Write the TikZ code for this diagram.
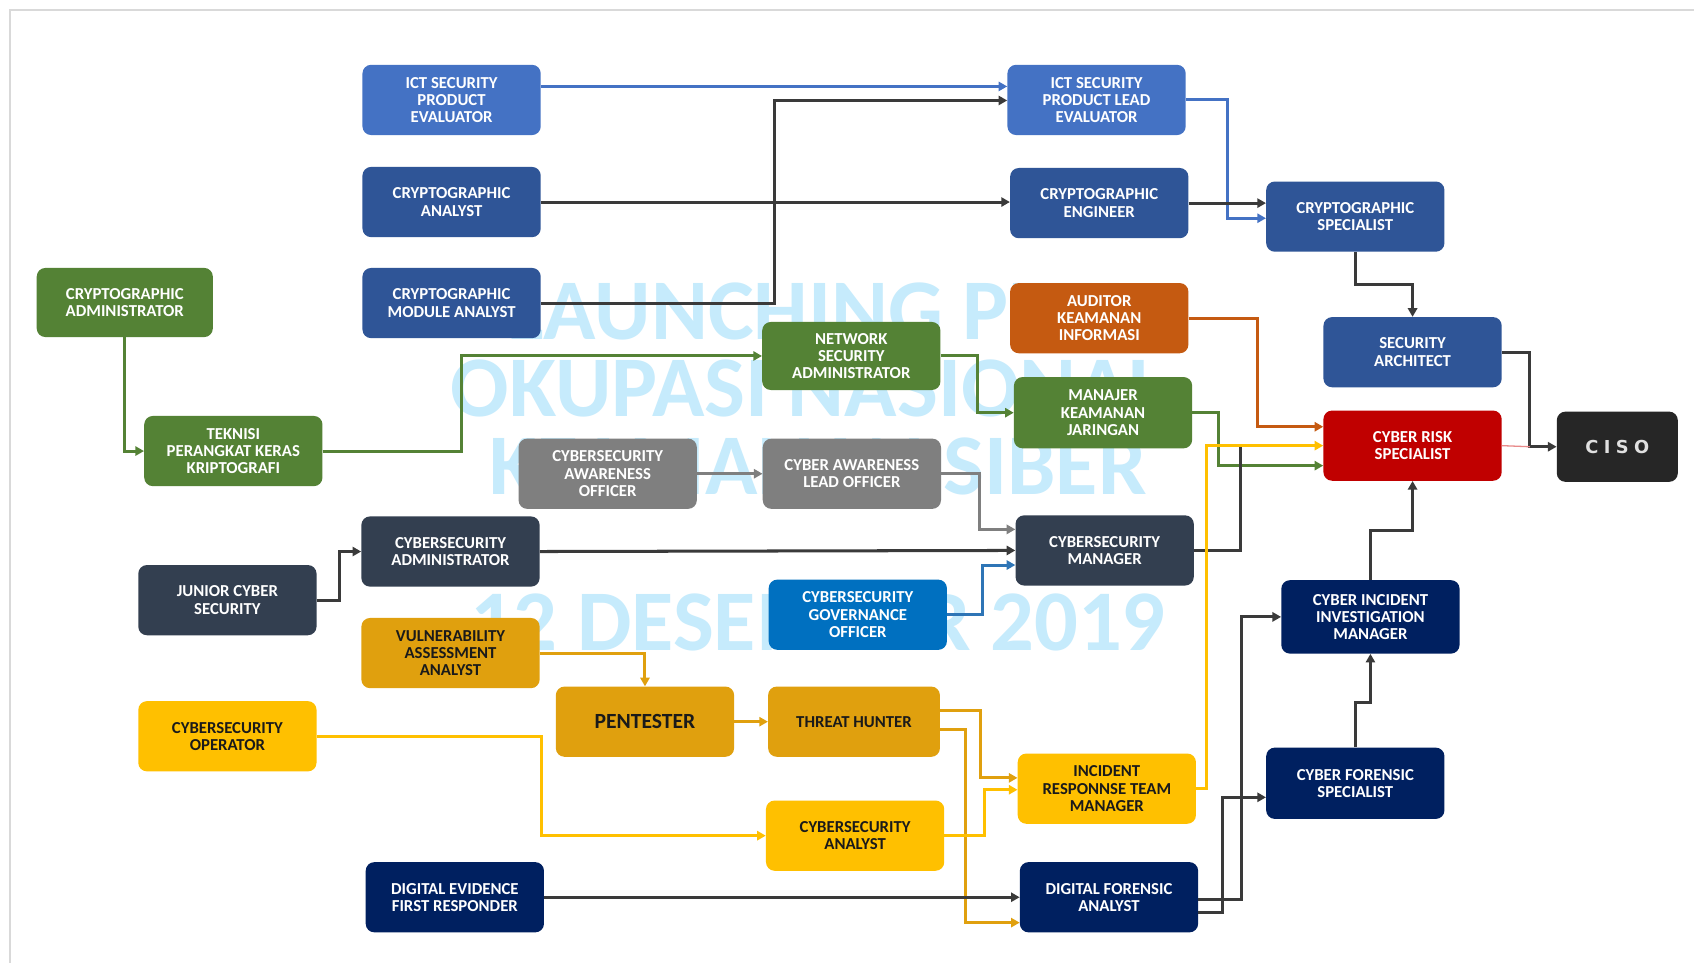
\documentclass[tikz,border=0pt]{standalone}
\usepackage{fontspec}
\setmainfont{Carlito}
\newfontfamily\cisofont{DejaVu Sans}[LetterSpace=30]
\usetikzlibrary{arrows.meta}
\definecolor{cMed}{HTML}{4472C4}
\definecolor{cDk}{HTML}{2F5597}
\definecolor{cGr}{HTML}{548235}
\definecolor{cGy}{HTML}{7F7F7F}
\definecolor{cOr}{HTML}{C55A11}
\definecolor{cRd}{HTML}{C00000}
\definecolor{cBk}{HTML}{262626}
\definecolor{cSl}{HTML}{333F50}
\definecolor{cBl}{HTML}{0070C0}
\definecolor{cGo}{HTML}{E0A00E}
\definecolor{cYe}{HTML}{FFC000}
\definecolor{cNv}{HTML}{002060}
\definecolor{cLn}{HTML}{3A3A3A}
\definecolor{cBlLn}{HTML}{2E75B6}
\definecolor{cWm}{RGB}{198,235,252}
\definecolor{cFr}{HTML}{D9D9D9}
\definecolor{cTx}{HTML}{1A1A1A}
\definecolor{cPink}{HTML}{E88A8A}
\newcommand\bxfont{\bfseries\fontsize{15.5}{16}\selectfont}
\tikzset{
  box/.style={rectangle, rounded corners=8pt, minimum width=165pt, minimum height=65pt,
    inner sep=0pt, align=center, font=\bxfont, text=white},
  bMed/.style={box, fill=cMed},
  bDk/.style={box, fill=cDk},
  bGr/.style={box, fill=cGr},
  bGy/.style={box, fill=cGy},
  bOr/.style={box, fill=cOr},
  bRd/.style={box, fill=cRd},
  bSl/.style={box, fill=cSl},
  bBl/.style={box, fill=cBl},
  bGo/.style={box, fill=cGo, text=cTx},
  bYe/.style={box, fill=cYe, text=cTx},
  bNv/.style={box, fill=cNv},
  conn/.style={line width=2.8pt, line join=miter, -{Triangle[length=8pt,width=8.5pt]}},
  plain/.style={line width=2.8pt, line join=miter},
  wm/.style={inner sep=0pt, text=cWm, font=\bfseries\fontsize{80}{80}\selectfont},
}
\begin{document}
\begin{tikzpicture}[x=1pt,y=-1pt]
\useasboundingbox (0,0) rectangle (1568,891);
\fill[white] (0,0) rectangle (1568,891);
% frame
\draw[cFr, line width=2pt] (9,891) -- (9,9) -- (1568,9);
% watermark
\node[wm] (w1) at (762,288) {LAUNCHING PETA};
\node[wm] (w2) at (748,360) {OKUPASI NASIONAL};
\node[wm] (w3) at (757,432) {KEAMANAN SIBER};
\node[wm] (w4) at (757,576) {12 DESEMBER 2019};

% nodes
\node[bMed] (ictpe) at (418,92.5) {ICT SECURITY\\PRODUCT\\EVALUATOR};
\node[bDk] (ca) at (418,187) {CRYPTOGRAPHIC\\ANALYST};
\node[bDk] (cma) at (418,280.5) {CRYPTOGRAPHIC\\MODULE ANALYST};
\node[bGr, minimum width=163pt, minimum height=64pt] (cadm) at (115.5,280) {CRYPTOGRAPHIC\\ADMINISTRATOR};
\node[bGr] (tpk) at (216,417.5) {TEKNISI\\PERANGKAT KERAS\\KRIPTOGRAFI};
\node[bGr, minimum height=63pt] (nsa) at (788,329.5) {NETWORK\\SECURITY\\ADMINISTRATOR};
\node[bGy] (cao) at (562.5,438.5) {CYBERSECURITY\\AWARENESS\\OFFICER};
\node[bGy] (calo) at (788.5,438.5) {CYBER AWARENESS\\LEAD OFFICER};
\node[bMed] (ictple) at (1015,92.5) {ICT SECURITY\\PRODUCT LEAD\\EVALUATOR};
\node[bDk] (ce) at (1017.5,188) {CRYPTOGRAPHIC\\ENGINEER};
\node[bOr] (aki) at (1017.5,294.5) {AUDITOR\\KEAMANAN\\INFORMASI};
\node[bGr, minimum height=66pt] (mkj) at (1021,382) {MANAJER\\KEAMANAN\\JARINGAN};
\node[bDk] (cs) at (1254.5,200.5) {CRYPTOGRAPHIC\\SPECIALIST};
\node[bDk] (sa) at (1307.5,326) {SECURITY\\ARCHITECT};
\node[bRd] (crs) at (1307.5,412.5) {CYBER RISK\\SPECIALIST};
\node[box, fill=cBk, minimum width=112pt, text=white!88!black, font=\cisofont\bfseries\fontsize{16.5}{18}\selectfont] (ciso) at (1497,413.5) {CISO};
\node[bSl] (csadm) at (417,510.5) {CYBERSECURITY\\ADMINISTRATOR};
\node[bSl] (jcs) at (210.5,555.5) {JUNIOR CYBER\\SECURITY};
\node[bSl] (csm) at (1022.5,509.5) {CYBERSECURITY\\MANAGER};
\node[bBl] (cgo) at (794,569) {CYBERSECURITY\\GOVERNANCE\\OFFICER};
\node[bGo] (vaa) at (417,604.5) {VULNERABILITY\\ASSESSMENT\\ANALYST};
\node[bGo, font=\bfseries\fontsize{20}{22}\selectfont] (pen) at (597,668) {PENTESTER};
\node[bGo, minimum width=159pt] (th) at (790.5,668) {THREAT HUNTER};
\node[bYe] (cop) at (210.5,681.5) {CYBERSECURITY\\OPERATOR};
\node[bYe] (can) at (791.5,773.5) {CYBERSECURITY\\ANALYST};
\node[bYe] (irtm) at (1024.5,730) {INCIDENT\\RESPONNSE TEAM\\MANAGER};
\node[bNv] (defr) at (421,830.5) {DIGITAL EVIDENCE\\FIRST RESPONDER};
\node[bNv] (dfa) at (1026.5,830.5) {DIGITAL FORENSIC\\ANALYST};
\node[bNv, minimum height=68pt] (ciim) at (1268.5,571) {CYBER INCIDENT\\INVESTIGATION\\MANAGER};
\node[bNv, minimum height=66pt] (cfs) at (1254.5,725) {CYBER FORENSIC\\SPECIALIST};

\coordinate (jn) at (1416,413.5);
\coordinate (cmj) at (1148,412.5);

% connectors
\draw[conn, cMed] (ictpe.east |- 0,80) -- (ictple.west |- 0,80);
\draw[conn, cLn] (cma.east |- 0,281) -| (717,93) -- (ictple.west |- 0,93);
\draw[conn, cLn] (ca.east) -- (ce.west |- ca.east);
\draw[conn, cMed] (ictple.east) -| (1136,202) -- (cs.west |- 0,202);
\draw[conn, cLn] (ce.east) -- (cs.west |- ce.east);
\draw[conn, cLn] (cs.south) |- (sa.north |- 0,263) -- (sa.north);
\draw[conn, cLn] (sa.east) -| (jn) -- (ciso.west);
\draw[cPink, line width=1.2pt] (crs.east) -- (jn);
\draw[conn, cOr] (aki.east) -| (1164,395) -- (crs.west |- 0,395);
\draw[conn, cGr] (mkj.east) -| (1128,431) -- (crs.west |- 0,431);
\draw[plain, cLn] (csm.east) -| (cmj);
\draw[conn, cYe] (irtm.east) -| (1117,412.5) -- (crs.west);
\draw[conn, cGr] (nsa.east) -| (905,382) -- (mkj.west);
\draw[conn, cGr] (tpk.east) -| (427,329.5) -- (nsa.west);
\draw[conn, cGr] (cadm.south) |- (tpk.west);
\draw[conn, cGy] (cao.east) -- (calo.west);
\draw[conn, cGy] (calo.east) -| (907,490) -- (csm.west |- 0,490);
\draw[conn, cLn] (csadm.east) -- (csm.west);
\draw[conn, cBlLn] (cgo.east) -| (909,523) -- (csm.west |- 0,523);
\draw[conn, cLn] (jcs.east) -| (314,510.5) -- (csadm.west);
\draw[conn, cGo] (vaa.east) -| (pen.north);
\draw[conn, cGo] (pen.east) -- (th.west);
\draw[conn, cYe] (cop.east) -| (501,773.5) -- (can.west);
\draw[conn, cGo] (th.east |- 0,658) -| (908,720) -- (irtm.west |- 0,720);
\draw[conn, cGo] (th.east |- 0,675) -| (894,854) -- (dfa.west |- 0,854);
\draw[conn, cYe] (can.east) -| (911,731) -- (irtm.west |- 0,731);
\draw[conn, cLn] (defr.east) -- (dfa.west);
\draw[conn, cLn] (dfa.east |- 0,833) -| (1149,571) -- (ciim.west);
\draw[conn, cLn] (dfa.east |- 0,845) -| (1132,738) -- (cfs.west |- 0,738);
\draw[conn, cLn] (cfs.north) |- (ciim.south |- 0,650) -- (ciim.south);
\draw[conn, cLn] (ciim.north) |- (crs.south |- 0,491) -- (crs.south);
\end{tikzpicture}
\end{document}
